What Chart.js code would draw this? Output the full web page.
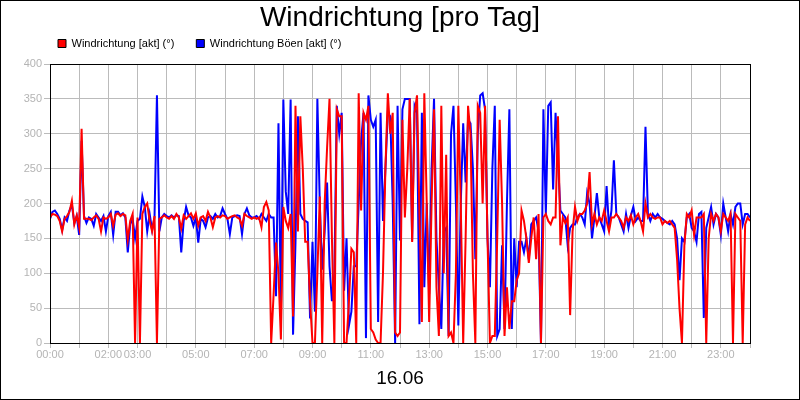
<!DOCTYPE html>
<html>
<head>
<meta charset="utf-8">
<script src="https://cdn.jsdelivr.net/npm/chart.js@4"></script>
<style>
  body { margin: 0; background: #fff; }
  #frame { width: 800px; height: 400px; box-sizing: border-box; border: 1px solid #000; }
  #chart { display: block; }
</style>
</head>
<body>
<div id="frame"><canvas id="chart" width="798" height="398"></canvas></div>
<script>
// Wind direction, one reading every 5 minutes on 16.06
const stepMinutes = 5;
const dayLabel = '16.06';
const tickLabels = ['00:00', '02:00', '03:00', '05:00', '07:00', '09:00', '11:00',
                    '13:00', '15:00', '17:00', '19:00', '21:00', '23:00'];
const yTicks = [0, 50, 100, 150, 200, 250, 300, 350, 400];

// Windrichtung [akt] (°)
const windAkt = [
    180, 185, 184, 182, 175, 160, 178, 182, 188, 204, 170, 183,
    166, 307, 178, 178, 178, 176, 180, 183, 178, 160, 180, 178,
    180, 185, 168, 184, 186, 182, 185, 183, 148, 175, 185, 0,
    180, 0, 185, 195, 200, 175, 160, 182, 0, 178, 180, 183,
    180, 178, 182, 178, 185, 180, 164, 183, 178, 182, 186, 178,
    186, 168, 180, 182, 175, 188, 180, 166, 180, 182, 180, 183,
    182, 178, 180, 182, 183, 180, 178, 168, 185, 182, 180, 178,
    180, 178, 180, 166, 195, 202, 190, 0, 70, 144, 100, 5,
    195, 175, 165, 185, 38, 340, 160, 325, 250, 145, 145, 60,
    0, 0, 100, 210, 0, 200, 280, 350, 150, 0, 335, 325,
    325, 0, 0, 60, 135, 130, 0, 358, 190, 330, 320, 340,
    20, 15, 5, 0, 0, 100, 250, 358, 300, 330, 15, 10,
    15, 320, 180, 250, 350, 145, 330, 355, 185, 30, 358, 200,
    30, 200, 335, 80, 10, 340, 100, 270, 10, 15, 0, 100,
    340, 200, 0, 150, 340, 300, 100, 0, 340, 330, 200, 340,
    150, 0, 10, 10, 150, 320, 200, 10, 80, 20, 60, 60,
    90, 100, 190, 175, 150, 115, 150, 180, 120, 185, 0, 180,
    185, 175, 170, 180, 180, 325, 140, 180, 172, 180, 40, 160,
    195, 175, 185, 185, 190, 200, 245, 170, 185, 170, 180, 175,
    190, 175, 160, 180, 180, 185, 180, 175, 165, 180, 175, 183,
    170, 180, 185, 175, 160, 200, 180, 185, 180, 178, 180, 180,
    170, 175, 172, 175, 170, 165, 120, 50, 0, 140, 185, 180,
    190, 155, 180, 180, 180, 185, 0, 150, 185, 175, 185, 180,
    160, 185, 180, 175, 185, 0, 185, 180, 175, 0, 170, 180,
    175
];

// Windrichtung Böen [akt] (°)
const windBoen = [
    178, 188, 190, 185, 178, 162, 180, 175, 190, 198, 172, 182,
    155, 290, 182, 172, 180, 178, 168, 185, 180, 175, 182, 160,
    182, 188, 155, 188, 188, 183, 186, 180, 130, 170, 178, 150,
    175, 178, 210, 195, 160, 185, 162, 180, 355, 160, 180, 185,
    182, 180, 183, 180, 183, 182, 130, 175, 195, 183, 180, 168,
    180, 144, 178, 175, 166, 180, 182, 178, 185, 180, 182, 193,
    185, 178, 156, 180, 182, 183, 182, 156, 185, 193, 183, 180,
    180, 182, 178, 185, 180, 175, 185, 180, 180, 67, 315, 41,
    349, 217, 185, 349, 12, 144, 325, 185, 178, 175, 173, 35,
    145, 45, 350, 200, 105, 160, 230, 110, 60, 100, 340, 300,
    330, 75, 150, 25, 45, 110, 110, 200, 290, 330, 7, 355,
    320, 310, 320, 30, 330, 175, 250, 330, 325, 200, 0, 340,
    147, 335, 350, 350, 350, 147, 340, 330, 27, 330, 80, 200,
    70, 250, 350, 150, 80, 20, 160, 165, 10, 300, 340, 200,
    25, 200, 315, 230, 320, 315, 250, 120, 300, 355, 358, 335,
    150, 80, 250, 340, 10, 20, 140, 20, 200, 335, 20, 150,
    80, 145, 145, 130, 150, 120, 170, 175, 180, 160, 0, 335,
    185, 340, 345, 220, 330, 260, 190, 185, 180, 140, 165, 170,
    170, 180, 185, 180, 170, 215, 200, 150, 180, 215, 180, 170,
    160, 225, 165, 190, 262, 185, 180, 170, 160, 185, 165, 183,
    195, 175, 180, 175, 175, 310, 185, 175, 185, 180, 185, 180,
    178, 175, 172, 170, 175, 170, 150, 90, 150, 145, 180, 185,
    165, 160, 145, 185, 188, 36, 165, 180, 195, 170, 185, 180,
    155, 200, 180, 160, 185, 170, 195, 200, 200, 170, 185, 185,
    180
];

const FONT = "'Liberation Sans', Arial, sans-serif";

function toPoints(values) {
    return values.map((v, i) => ({ x: i * stepMinutes, y: v }));
}

function hhmm(minutes) {
    const h = Math.floor(minutes / 60);
    const m = minutes % 60;
    return String(h).padStart(2, '0') + ':' + String(m).padStart(2, '0');
}

// black frame round the plot area
const plotFrame = {
    id: 'plotFrame',
    afterDatasetsDraw(chart) {
        const a = chart.chartArea;
        const ctx = chart.ctx;
        ctx.save();
        ctx.strokeStyle = '#000';
        ctx.lineWidth = 1;
        ctx.strokeRect(Math.round(a.left) + 0.5, Math.round(a.top) + 0.5,
                       Math.round(a.right - a.left), Math.round(a.bottom - a.top));
        ctx.restore();
    }
};

// nudge legend row and title so they sit like the original
const headerNudge = {
    id: 'headerNudge',
    afterLayout(chart) {
        const lg = chart.legend;
        if (lg) {
            lg.left += 13; lg.right += 13;
            lg.top -= 5; lg.bottom -= 5;
        }
        const tb = chart.titleBlock;
        if (tb) {
            tb.left += 13.5; tb.right += 13.5;
        }
    }
};

const ctx = document.getElementById('chart').getContext('2d');
new Chart(ctx, {
    type: 'line',
    data: {
        datasets: [
            {
                label: 'Windrichtung [akt] (°)',
                data: toPoints(windAkt),
                borderColor: '#ff0000',
                backgroundColor: '#ff0000',
                borderWidth: 2,
                pointRadius: 0,
                tension: 0
            },
            {
                label: 'Windrichtung Böen [akt] (°)',
                data: toPoints(windBoen),
                borderColor: '#0000ff',
                backgroundColor: '#0000ff',
                borderWidth: 2,
                pointRadius: 0,
                tension: 0
            }
        ]
    },
    options: {
        responsive: false,
        animation: false,
        layout: { padding: { left: 22, right: 49, top: 0, bottom: 9 } },
        plugins: {
            title: {
                display: true,
                text: 'Windrichtung [pro Tag]',
                color: '#000',
                font: { family: FONT, size: 28, weight: 'normal' },
                padding: { top: 0, bottom: -13.6 }
            },
            legend: {
                position: 'top',
                align: 'start',
                labels: {
                    boxWidth: 8,
                    boxHeight: 8,
                    padding: 22,
                    color: '#000',
                    font: { family: FONT, size: 11 },
                    generateLabels(chart) {
                        const items = Chart.defaults.plugins.legend.labels.generateLabels(chart);
                        items.forEach(it => { it.strokeStyle = '#000'; it.lineWidth = 1; });
                        return items;
                    }
                }
            },
            tooltip: { enabled: false }
        },
        scales: {
            x: {
                type: 'linear',
                min: 0,
                max: 24 * 60,
                grid: { color: '#bbbbbb', tickLength: 5 },
                border: { color: '#000' },
                ticks: {
                    stepSize: 60,
                    autoSkip: false,
                    maxRotation: 0,
                    padding: 0,
                    color: '#b4b4b4',
                    font: { family: FONT, size: 11 },
                    callback(value) {
                        const label = hhmm(value);
                        return tickLabels.includes(label) ? label : '';
                    }
                },
                title: {
                    display: true,
                    text: dayLabel,
                    color: '#000',
                    font: { family: FONT, size: 19 },
                    padding: { top: 6, bottom: 0 }
                }
            },
            y: {
                min: yTicks[0],
                max: yTicks[yTicks.length - 1],
                grid: { color: '#bbbbbb', tickLength: 6 },
                border: { color: '#000' },
                afterFit(scale) { scale.width = 27; },
                ticks: {
                    stepSize: yTicks[1] - yTicks[0],
                    padding: 2,
                    color: '#b4b4b4',
                    font: { family: FONT, size: 11 }
                }
            }
        }
    },
    plugins: [plotFrame, headerNudge]
});
</script>
</body>
</html>
